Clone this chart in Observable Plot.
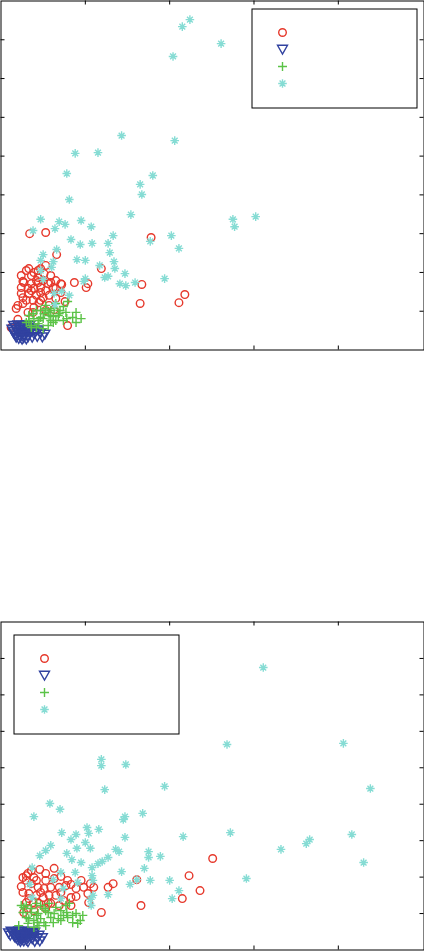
<!DOCTYPE html>
<html>
<head>
<meta charset="utf-8">
<script src="https://cdn.jsdelivr.net/npm/d3@7"></script>
<script src="https://cdn.jsdelivr.net/npm/@observablehq/plot@0.6"></script>
<style>
  body { margin: 0; background: #fff; }
  #wrap { position: relative; width: 424px; height: 951px; font-family: "DejaVu Sans", sans-serif; }
  .abs { position: absolute; }
  svg { display: block; }
</style>
</head>
<body>
<div id="wrap"></div>
<script>
// ---------- data ----------
const seriesNames = ["Class 1", "Class 2", "Class 3", "Class 4"];
const xTicks = [1, 2, 3, 4];
const yTicks = [1, 2, 3, 4, 5, 6, 7, 8];

// top panel
const topCircles = [
  [0.34,3.00],[0.53,3.03],[0.66,2.46],[1.78,2.90],[1.19,2.10],[1.67,1.69],[1.65,1.20],[2.11,1.22],
  [2.18,1.43],[0.79,0.63],[1.01,1.61],[1.03,1.71],[0.87,1.74],[0.12,0.58],[0.20,0.79],
  [0.33,2.10],[0.39,2.00],[0.36,1.92],[0.44,1.87],[0.51,1.97],[0.59,1.92],[0.65,1.79],[0.71,1.71],
  [0.27,1.74],[0.36,1.71],[0.44,1.74],[0.50,1.79],[0.56,1.71],[0.32,1.59],[0.39,1.59],[0.47,1.61],
  [0.53,1.53],[0.24,1.46],[0.33,1.46],[0.42,1.41],[0.50,1.35],[0.57,1.41],[0.30,1.28],[0.38,1.28],
  [0.45,1.22],[0.26,1.20],[0.20,1.15],[0.18,1.07],[0.38,0.97],[0.76,1.25],[0.63,1.04],[0.39,1.10],
  [0.44,2.05],[0.24,1.61],[0.62,1.61],[0.47,1.48],[0.47,2.10],[0.26,1.77],[0.72,1.69],
  [0.24,1.92],[0.30,2.05],[0.53,2.18],[0.59,1.74],[0.65,1.59],[0.71,1.48],[0.36,1.53],[0.47,1.28],
  [0.57,1.15],[0.26,1.35],[0.42,1.79],[0.53,1.02],[0.65,1.33],[0.32,0.97]
];
const topTriangles = [
  [0.15,0.63],[0.20,0.64],[0.25,0.63],[0.30,0.65],[0.34,0.62],
  [0.13,0.53],[0.18,0.52],[0.23,0.54],[0.27,0.53],[0.32,0.52],[0.37,0.54],[0.44,0.51],
  [0.15,0.43],[0.20,0.44],[0.25,0.42],[0.30,0.43],[0.34,0.44],[0.39,0.42],[0.47,0.44],
  [0.18,0.32],[0.23,0.33],[0.27,0.31],[0.32,0.33],[0.37,0.32],[0.43,0.34],[0.52,0.40],
  [0.25,0.27],[0.30,0.28],[0.49,0.33],
  [0.17,0.58],[0.22,0.59],[0.27,0.58],[0.32,0.57],[0.15,0.48],[0.20,0.48],[0.25,0.47],[0.30,0.48],
  [0.35,0.47],[0.17,0.38],[0.22,0.37],[0.27,0.38],[0.32,0.37],[0.21,0.29],[0.41,0.47]
];
const topPluses = [
  [0.89,0.97],[0.85,0.84],[0.79,1.25],[0.70,1.02],[0.63,1.07],[0.68,0.89],[0.62,0.71],[0.56,0.63],
  [0.47,0.84],[0.39,0.81],[0.33,0.76],[0.44,0.68],[0.51,0.94],[0.57,0.89],[0.74,0.76],[0.65,0.76],
  [0.38,0.94],[0.30,0.71],[0.47,1.02],[0.53,1.07],[0.59,1.02],[0.42,0.58],[0.50,0.55],[0.36,0.63],
  [0.77,0.97],[0.33,0.89],[0.42,1.02],[0.53,1.15],[0.65,1.20],[0.74,1.12],[0.50,0.81],[0.59,0.76],
  [0.69,0.94],[0.78,0.81],[0.89,0.71],[0.95,0.81],[0.36,0.58],[0.56,0.97],[0.45,0.76],[0.62,0.86]
];
const topStars = [
  [2.24,8.52],[2.15,8.34],[2.04,7.57],[1.43,5.53],[2.06,5.40],[0.88,5.07],[1.15,5.09],[0.78,4.55],
  [1.80,4.50],[2.61,7.90],[2.75,3.37],[2.77,3.18],[3.02,3.44],[1.65,4.27],[1.67,4.01],[0.81,3.88],
  [1.54,3.49],[0.47,3.37],[0.69,3.31],[0.76,3.24],[0.95,3.34],[1.07,3.18],[0.64,3.13],[0.38,3.08],
  [2.02,2.95],[1.77,2.80],[2.11,2.62],[0.83,2.85],[0.94,2.72],[1.08,2.75],[1.27,2.75],[1.33,2.95],
  [0.66,2.59],[0.50,2.46],[1.29,2.51],[0.47,2.31],[0.62,2.28],[0.90,2.33],[1.00,2.31],[1.17,2.18],
  [1.34,2.28],[1.35,2.10],[0.60,2.13],[0.47,2.05],[1.47,1.97],[1.94,1.84],[1.27,1.90],[1.23,1.87],
  [1.00,1.84],[0.50,1.82],[0.98,1.77],[1.41,1.71],[1.48,1.66],[1.59,1.74],[0.63,1.46],[0.72,1.51],
  [0.81,1.41],[0.64,1.17]
];

// bottom panel
const botCircles = [
  [2.51,2.51],[2.23,2.04],[2.36,1.63],[2.15,1.41],[1.66,1.22],[1.19,1.03],[1.61,1.93],[1.33,1.82],
  [1.27,1.72],[1.10,1.72],[1.06,1.82],[1.03,1.55],[1.04,1.30],[0.98,1.72],[0.89,1.69],[0.89,1.47],
  [0.83,1.44],[0.74,1.36],[0.79,1.91],[0.63,2.24],[0.46,2.21],[0.32,2.10],[0.39,1.99],[0.53,1.91],
  [0.63,1.96],[0.30,1.91],[0.36,1.82],[0.44,1.72],[0.51,1.69],[0.59,1.72],[0.69,1.72],[0.26,1.58],
  [0.33,1.55],[0.42,1.50],[0.50,1.44],[0.57,1.50],[0.65,1.50],[0.30,1.30],[0.38,1.30],[0.45,1.28],
  [0.56,1.28],[0.32,1.14],[0.39,1.08],[0.27,1.03],[0.26,1.99],[0.30,2.04],
  [0.36,2.18],[0.53,2.10],[0.71,2.02],[0.83,1.80],[0.95,1.91],[0.24,1.74],[0.47,1.58],[0.71,1.58],
  [0.77,1.77],[0.59,1.28],[0.69,1.22],[0.83,1.22],[0.33,1.41],[0.53,1.14],[0.42,1.91]
];
const botTriangles = [
  [0.12,0.51],[0.17,0.50],[0.21,0.52],[0.26,0.51],[0.31,0.49],[0.36,0.51],[0.40,0.48],
  [0.11,0.40],[0.15,0.41],[0.20,0.39],[0.25,0.40],[0.30,0.42],[0.34,0.40],[0.39,0.38],[0.45,0.40],
  [0.18,0.32],[0.23,0.31],[0.27,0.33],[0.32,0.32],[0.37,0.30],[0.43,0.31],[0.49,0.33],
  [0.23,0.23],[0.27,0.24],[0.32,0.22],[0.40,0.23],[0.46,0.24],
  [0.14,0.46],[0.19,0.45],[0.23,0.46],[0.28,0.45],[0.33,0.46],[0.38,0.44],[0.16,0.36],[0.21,0.35],
  [0.25,0.36],[0.30,0.36],[0.35,0.35],[0.20,0.27],[0.25,0.28],[0.30,0.27],[0.09,0.46]
];
const botPluses = [
  [0.94,0.81],[0.91,0.73],[0.79,0.89],[0.81,1.28],[0.78,1.03],[0.57,1.28],[0.51,1.14],[0.44,1.00],
  [0.36,1.03],[0.30,0.89],[0.39,0.81],[0.47,0.86],[0.59,0.89],[0.68,0.86],[0.24,1.22],[0.21,0.67],
  [0.39,0.62],[0.32,0.73],[0.56,1.03],[0.63,1.00],[0.74,0.95],[0.89,1.00],[0.85,0.75],[0.45,0.67],
  [0.51,0.75],[0.27,1.17],
  [0.30,1.22],[0.36,1.14],[0.42,1.28],[0.47,1.22],[0.53,1.08],[0.65,1.17],[0.71,1.08],[0.77,1.22],
  [0.85,0.95],[0.97,0.95],[0.33,0.86],[0.43,0.75],[0.53,0.67],[0.62,0.75],[0.71,0.81],[0.42,0.95],
  [0.26,1.03]
];
const botStars = [
  [3.11,7.75],[2.68,5.64],[4.06,5.67],[4.38,4.43],[2.72,3.22],[4.16,3.17],[3.66,3.03],[3.62,2.92],
  [3.32,2.76],[4.30,2.40],[2.91,1.96],[1.19,5.23],[1.19,5.06],[1.48,5.09],[1.23,4.40],[1.94,4.49],
  [0.58,4.02],[0.70,3.86],[0.39,3.66],[1.47,3.66],[1.45,3.58],[1.68,3.75],[0.72,3.22],[1.02,3.36],
  [1.16,3.31],[0.89,3.17],[1.04,3.20],[0.83,3.03],[1.47,3.09],[2.16,3.11],[1.00,2.95],[0.59,2.87],
  [0.53,2.73],[0.46,2.59],[0.90,2.79],[1.06,2.79],[1.36,2.76],[1.40,2.70],[0.78,2.65],[0.84,2.48],
  [1.75,2.70],[1.75,2.54],[1.89,2.57],[0.95,2.40],[1.15,2.37],[1.20,2.43],[1.27,2.54],[1.08,2.26],
  [0.37,2.26],[0.71,2.13],[0.88,2.13],[1.08,2.04],[1.43,2.15],[1.70,2.24],[0.62,1.93],[1.09,1.91],
  [1.53,1.80],[1.61,1.93],[1.77,1.91],[2.00,1.91],[0.91,1.85],[0.34,1.80],[0.74,1.69],[1.27,1.52],
  [2.11,1.63],[2.03,1.41],[0.37,1.44],[1.06,1.39],[1.09,1.50],[1.07,1.22],[0.71,1.41]
];

// ---------- styles ----------
const triDown = { draw(ctx) { ctx.moveTo(-5, -4.2); ctx.lineTo(5, -4.2); ctx.lineTo(0, 4.6); ctx.closePath(); } };
const plusSym = { draw(ctx) { ctx.moveTo(-4.5, 0); ctx.lineTo(4.5, 0); ctx.moveTo(0, -4.5); ctx.lineTo(0, 4.5); } };
const starSym = { draw(ctx) {
  ctx.moveTo(-4.3, 0); ctx.lineTo(4.3, 0); ctx.moveTo(0, -4.3); ctx.lineTo(0, 4.3);
  ctx.moveTo(-2.9, -2.9); ctx.lineTo(2.9, 2.9); ctx.moveTo(-2.9, 2.9); ctx.lineTo(2.9, -2.9);
} };
const seriesStyle = [
  { symbol: "circle", r: 3.8, stroke: "#e6392c" },
  { symbol: triDown, r: 4, stroke: "#3142a0" },
  { symbol: plusSym, r: 4, stroke: "#5bc347" },
  { symbol: starSym, r: 4, stroke: "#86dcd4" }
];
const markerWidth = 1.4;

function seriesMark(data, i) {
  const s = seriesStyle[i];
  return Plot.dot(data, { x: d => d[0], y: d => d[1], symbol: s.symbol, r: s.r, stroke: s.stroke, fill: "none", strokeWidth: markerWidth });
}

function panel(series, H, mt, mb) {
  const W = 424, ml = 0.5, mr = 0.5, tick = 4;
  const innerH = H - mt - mb, innerW = W - ml - mr;
  return Plot.plot({
    width: W, height: H,
    marginLeft: ml, marginRight: mr, marginTop: mt, marginBottom: mb,
    x: { domain: [0, 5.016], axis: null },
    y: { domain: [0, 9], axis: null },
    style: { background: "white", overflow: "visible" },
    marks: [
      ...series.map((d, i) => seriesMark(d, i)),
      Plot.ruleX(xTicks, { x: d => d, insetBottom: innerH - tick, stroke: "black" }),
      Plot.ruleX(xTicks, { x: d => d, insetTop: innerH - tick, stroke: "black" }),
      Plot.ruleY(yTicks, { y: d => d, insetRight: innerW - tick, stroke: "black" }),
      Plot.ruleY(yTicks, { y: d => d, insetLeft: innerW - tick, stroke: "black" }),
      Plot.frame({ stroke: "black", strokeWidth: 1 })
    ]
  });
}

function legend() {
  return Plot.plot({
    width: 166, height: 100,
    marginLeft: 0.5, marginRight: 0.5, marginTop: 0.5, marginBottom: 0.5,
    x: { domain: [0, 1], axis: null },
    y: { type: "point", domain: seriesNames, range: [14, 84], axis: null },
    style: { background: "white", overflow: "visible" },
    marks: [
      Plot.frame({ stroke: "black", strokeWidth: 1 }),
      ...seriesNames.map((name, i) => {
        const s = seriesStyle[i];
        return Plot.dot([name], { y: d => d, frameAnchor: "left", dx: 30.5, symbol: s.symbol, r: s.r, stroke: s.stroke, fill: "none", strokeWidth: markerWidth });
      })
    ]
  });
}

const wrap = document.getElementById("wrap");
function place(node, left, top) {
  const div = document.createElement("div");
  div.className = "abs";
  div.style.left = left + "px";
  div.style.top = top + "px";
  div.appendChild(node);
  wrap.appendChild(div);
}

place(panel([topCircles, topTriangles, topPluses, topStars], 350, 0.5, 0.5), 0, 0);
place(legend(), 251, 8);
place(panel([botCircles, botTriangles, botPluses, botStars], 330, 1.5, 0.5), 0, 620);
place(legend(), 13, 634);
</script>
</body>
</html>
